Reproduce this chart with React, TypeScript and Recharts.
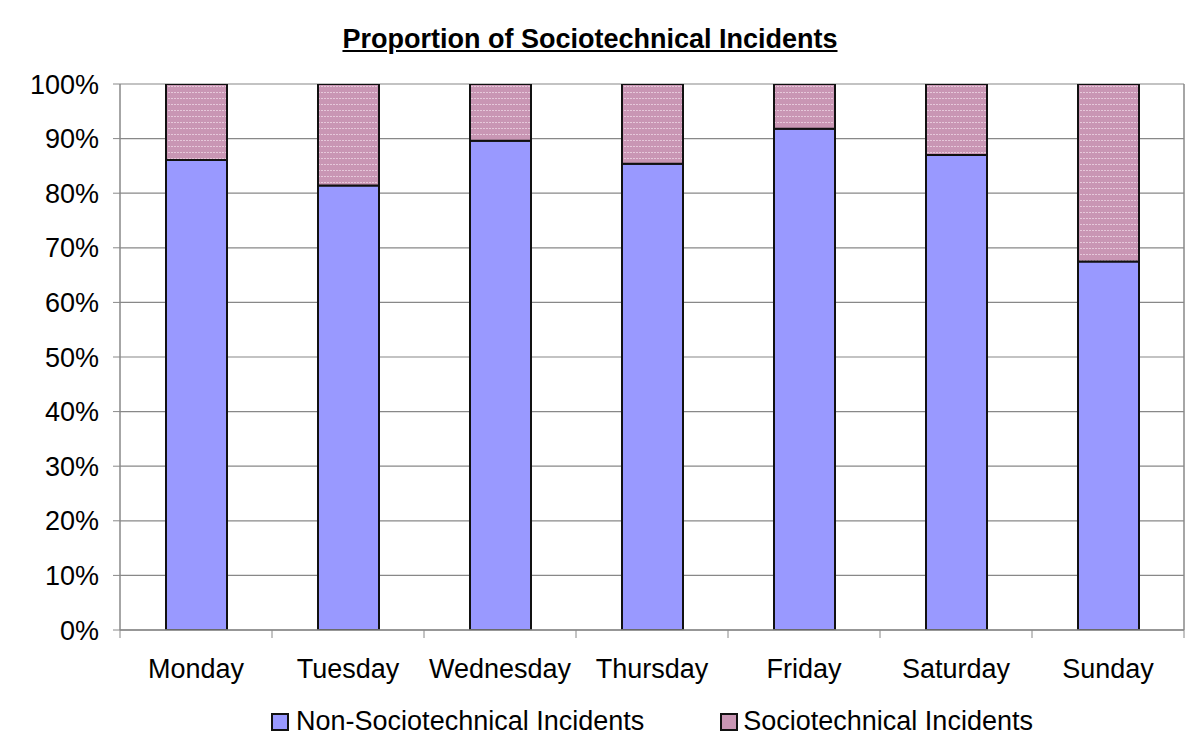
import React from "react";
import { BarChart, Bar, XAxis, YAxis, CartesianGrid, Legend } from "recharts";

const days = ["Monday", "Tuesday", "Wednesday", "Thursday", "Friday", "Saturday", "Sunday"];
const nonSocio = [86.1, 81.4, 89.6, 85.4, 91.8, 87.0, 67.5];
const socio = [13.9, 18.6, 10.4, 14.6, 8.2, 13.0, 32.5];
const yTicks = [0, 10, 20, 30, 40, 50, 60, 70, 80, 90, 100];
const boundaryTicks = [0, 1, 2, 3, 4, 5, 6, 7];

const data = days.map((d, i) => ({ day: d, idx: i + 0.5, non: nonSocio[i], socio: socio[i] }));

const FONT = "'Liberation Sans', Arial, Helvetica, sans-serif";
const BLUE = "#9999FF";
const PINK = "#C996B4";
const GRAY = "#888888";

const LegendContent = () => (
  <div style={{ display: "flex", justifyContent: "center", alignItems: "center", fontFamily: FONT, fontSize: 27, color: "#000" }}>
    <div style={{ display: "flex", alignItems: "center" }}>
      <span style={{ display: "inline-block", width: 14, height: 14, background: BLUE, border: "2px solid #111", marginRight: 7 }} />
      <span>Non-Sociotechnical Incidents</span>
    </div>
    <div style={{ display: "flex", alignItems: "center", marginLeft: 76 }}>
      <span style={{ display: "inline-block", width: 14, height: 14, background: PINK, border: "2px solid #111", marginRight: 5 }} />
      <span>Sociotechnical Incidents</span>
    </div>
  </div>
);

export default function App() {
  return (
    <div style={{ position: "absolute", left: 0, top: 0, width: 1200, height: 748, background: "#fff" }}>
      <div
        style={{
          position: "absolute",
          left: 0,
          top: 24,
          width: 1180,
          textAlign: "center",
          fontFamily: FONT,
          fontWeight: "bold",
          fontSize: 27,
          textDecoration: "underline",
          color: "#000",
        }}
      >
        Proportion of Sociotechnical Incidents
      </div>
      <BarChart
        width={1200}
        height={748}
        data={data}
        margin={{ top: 84, right: 0, bottom: 17, left: 0 }}
        barSize={61}
        style={{ fontFamily: FONT }}
      >
        <defs>
          <pattern id="pinkDots" width="6" height="6" patternUnits="userSpaceOnUse">
            <rect width="6" height="6" fill={PINK} />
            <rect x="0" y="2" width="2" height="1" fill="#E6C8DA" />
            <rect x="3" y="2" width="2" height="1" fill="#E6C8DA" />
          </pattern>
        </defs>
        <CartesianGrid vertical={false} stroke={GRAY} strokeWidth={1.2} />
        <XAxis
          xAxisId={0}
          dataKey="idx"
          type="number"
          domain={[0, 7]}
          ticks={boundaryTicks}
          height={1}
          tick={() => <g />}
          tickSize={8}
          stroke={GRAY}
          axisLine={{ stroke: GRAY, strokeWidth: 1.5 }}
          tickLine={{ stroke: GRAY, strokeWidth: 1 }}
        />
        <XAxis
          xAxisId={1}
          dataKey="day"
          height={54}
          axisLine={false}
          tickLine={false}
          tickSize={0}
          tickMargin={28}
          tick={{ fill: "#000", fontSize: 27, fontFamily: FONT }}
          interval={0}
        />
        <YAxis
          domain={[0, 100]}
          ticks={yTicks}
          width={120}
          tickFormatter={(v: number) => `${v}%`}
          tick={{ fill: "#000", fontSize: 27, fontFamily: FONT }}
          tickSize={7}
          tickMargin={14}
          axisLine={{ stroke: GRAY, strokeWidth: 1.5 }}
          tickLine={{ stroke: GRAY }}
          allowDataOverflow
        />
        <YAxis
          yAxisId="r"
          orientation="right"
          width={16}
          tick={false}
          tickLine={false}
          axisLine={{ stroke: GRAY, strokeWidth: 1.5 }}
        />
        <Legend
          verticalAlign="bottom"
          height={46}
          content={() => <LegendContent />}
          wrapperStyle={{ left: 120, width: 1064, top: 706 }}
        />
        <Bar xAxisId={1} dataKey="non" stackId="a" fill={BLUE} stroke="#111" strokeWidth={2} isAnimationActive={false} name="Non-Sociotechnical Incidents" />
        <Bar xAxisId={1} dataKey="socio" stackId="a" fill="url(#pinkDots)" stroke="#111" strokeWidth={2} isAnimationActive={false} name="Sociotechnical Incidents" />
      </BarChart>
    </div>
  );
}
